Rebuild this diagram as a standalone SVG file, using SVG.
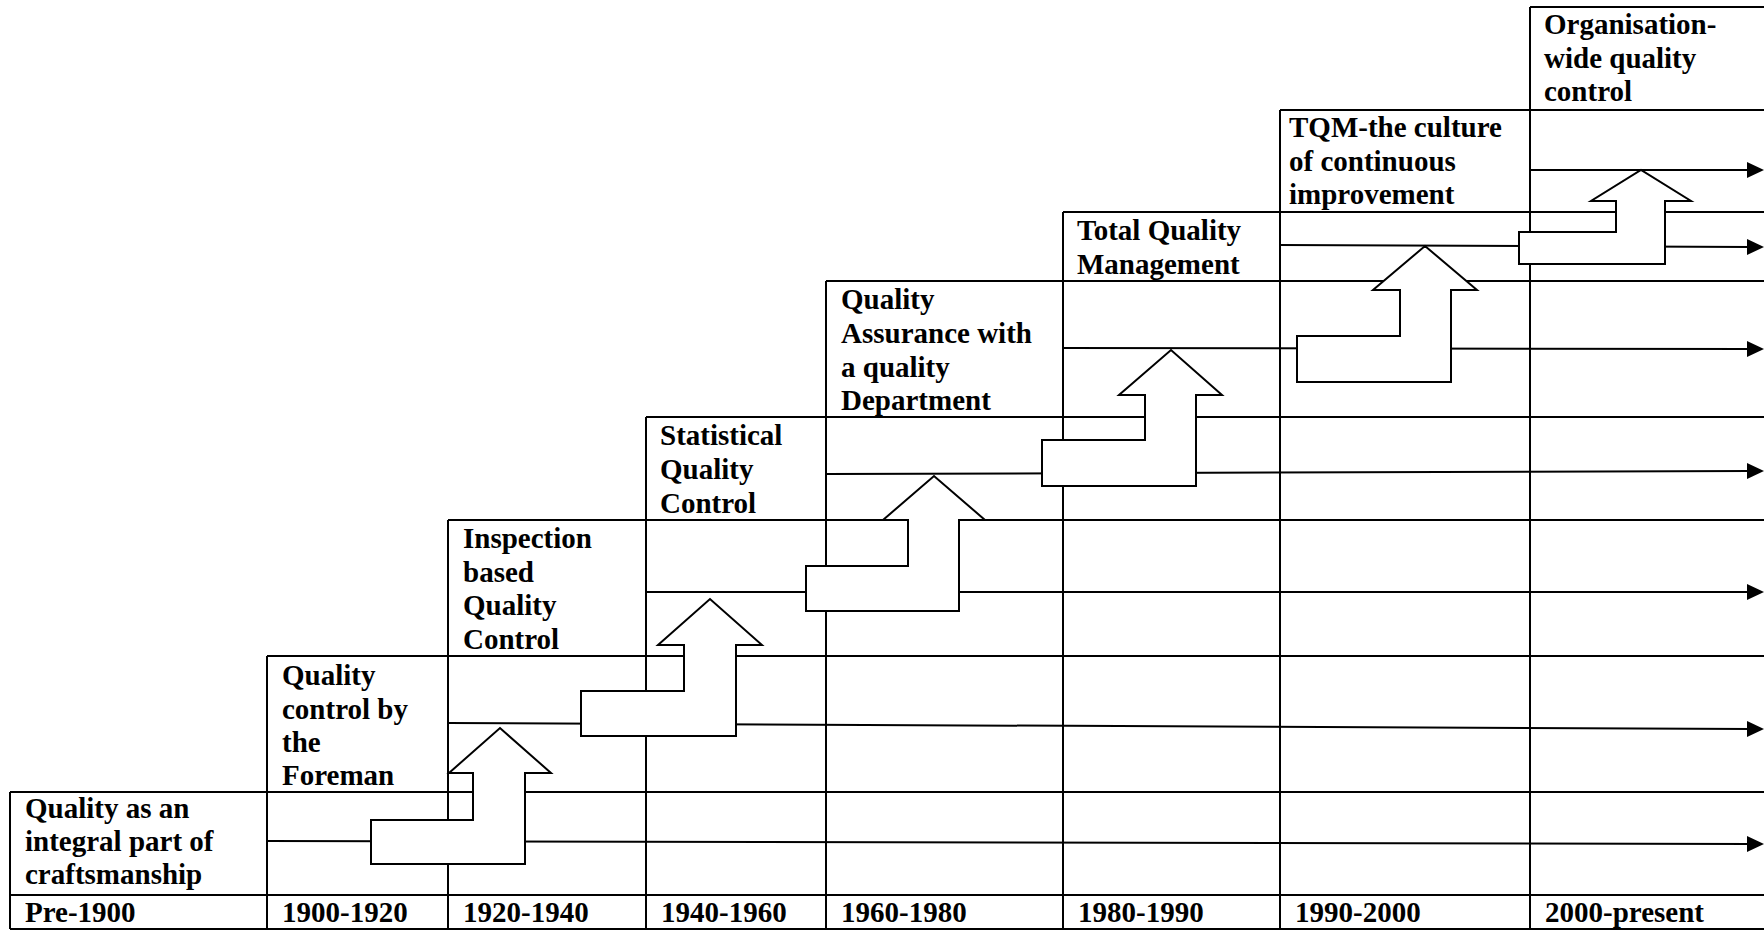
<svg xmlns="http://www.w3.org/2000/svg" width="1764" height="930" viewBox="0 0 1764 930">
<style>
.g{stroke:#000;stroke-width:2;fill:none}
.t{font-family:"Liberation Serif","Times New Roman",serif;font-weight:bold;font-size:29px;fill:#000}
.c{stroke:#000;stroke-width:2;fill:none;marker-end:url(#ah)}
.s{stroke:#000;stroke-width:2;fill:#fff;stroke-linejoin:miter}
</style>
<defs>
<marker id="ah" markerUnits="userSpaceOnUse" markerWidth="17" markerHeight="16" refX="3" refY="8" orient="auto" viewBox="0 0 17 16">
<path d="M0,0 L17,8 L0,16 Z" fill="#000"/>
</marker>
</defs>
<rect x="0" y="0" width="1764" height="930" fill="#fff"/>
<g id="grid" class="g">
<path d="M1530,7 H1764 M1280,110 H1764 M1063,212 H1764 M826,281 H1764 M646,417 H1764 M448,520 H1764 M267,656 H1764 M10,792 H1764 M10,895 H1764 M10,929 H1764"/>
<path d="M10,792 V929 M267,656 V929 M448,520 V929 M646,417 V929 M826,281 V929 M1063,212 V929 M1280,110 V929 M1530,7 V929"/>
</g>
<g id="connectors">
<path class="c" d="M267,841 L1750,844"/>
<path class="c" d="M448,723 L1750,729"/>
<path class="c" d="M646,592 L1750,592"/>
<path class="c" d="M826,474 L1750,471"/>
<path class="c" d="M1063,348 L1750,349"/>
<path class="c" d="M1280,245 L1750,247"/>
<path class="c" d="M1530,170 L1750,170"/>
</g>
<g id="steps">
<path class="s" d="M371,820 L473,820 L473,773 L449,773 L500,728 L551,773 L525,773 L525,864 L371,864 Z"/>
<path class="s" d="M581,691 L684,691 L684,645 L658,645 L710,599 L762,645 L736,645 L736,736 L581,736 Z"/>
<path class="s" d="M806,566 L908,566 L908,520 L883,520 L934,476 L985,520 L959,520 L959,611 L806,611 Z"/>
<path class="s" d="M1042,440 L1145,440 L1145,395 L1119,395 L1171,350 L1222,395 L1196,395 L1196,486 L1042,486 Z"/>
<path class="s" d="M1297,336 L1400,336 L1400,290 L1373,290 L1425,246 L1477,290 L1451,290 L1451,382 L1297,382 Z"/>
<path class="s" d="M1519,232 L1616,232 L1616,201 L1591,201 L1641,170 L1691,201 L1665,201 L1665,264 L1519,264 Z"/>
</g>
<g id="stage1"><text class="t" x="25" y="818">Quality as an</text><text class="t" x="25" y="851">integral part of</text><text class="t" x="25" y="884">craftsmanship</text></g>
<g id="stage2"><text class="t" x="282" y="685">Quality</text><text class="t" x="282" y="718.5">control by</text><text class="t" x="282" y="752">the</text><text class="t" x="282" y="785">Foreman</text></g>
<g id="stage3"><text class="t" x="463" y="548">Inspection</text><text class="t" x="463" y="581.5">based</text><text class="t" x="463" y="615">Quality</text><text class="t" x="463" y="649">Control</text></g>
<g id="stage4"><text class="t" x="660" y="445">Statistical</text><text class="t" x="660" y="479">Quality</text><text class="t" x="660" y="513">Control</text></g>
<g id="stage5"><text class="t" x="841" y="309">Quality</text><text class="t" x="841" y="343">Assurance with</text><text class="t" x="841" y="376.5">a quality</text><text class="t" x="841" y="410">Department</text></g>
<g id="stage6"><text class="t" x="1077" y="240">Total Quality</text><text class="t" x="1077" y="273.5">Management</text></g>
<g id="stage7"><text class="t" x="1289" y="137">TQM-the culture</text><text class="t" x="1289" y="170.5">of continuous</text><text class="t" x="1289" y="204">improvement</text></g>
<g id="stage8"><text class="t" x="1544" y="34">Organisation-</text><text class="t" x="1544" y="67.5">wide quality</text><text class="t" x="1544" y="101">control</text></g>
<g id="periods">
<text class="t" x="25" y="922">Pre-1900</text>
<text class="t" x="282" y="922">1900-1920</text>
<text class="t" x="463" y="922">1920-1940</text>
<text class="t" x="661" y="922">1940-1960</text>
<text class="t" x="841" y="922">1960-1980</text>
<text class="t" x="1078" y="922">1980-1990</text>
<text class="t" x="1295" y="922">1990-2000</text>
<text class="t" x="1545" y="922">2000-present</text>
</g>
</svg>
